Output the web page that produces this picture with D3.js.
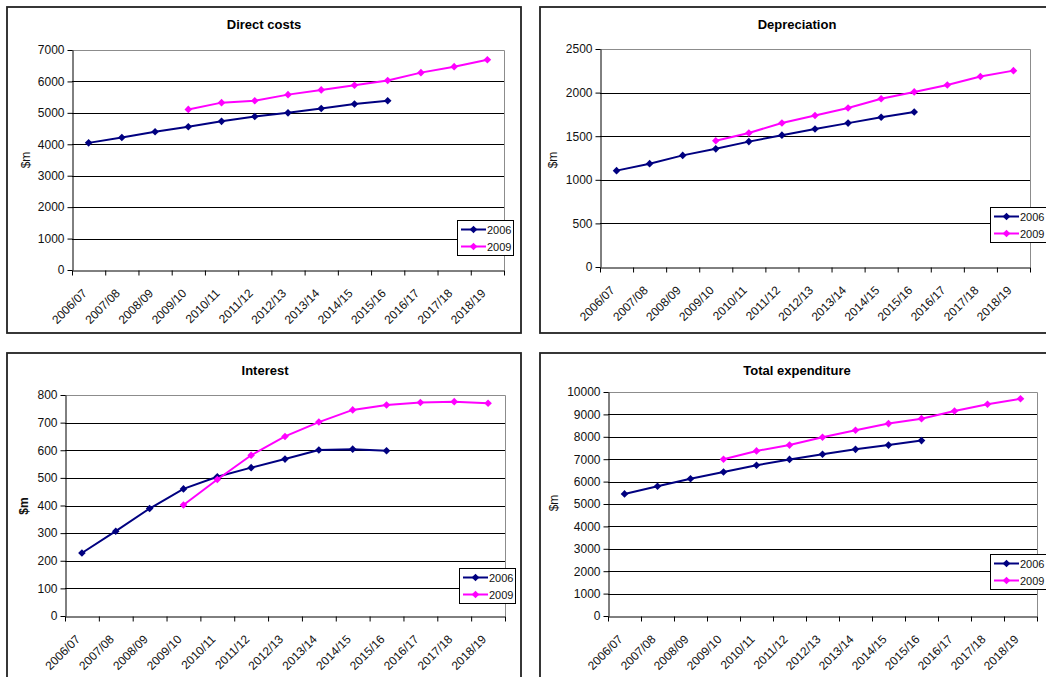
<!DOCTYPE html>
<html>
<head>
<meta charset="utf-8">
<script src="https://cdn.jsdelivr.net/npm/d3@7"></script>
<style>
  html, body { margin: 0; padding: 0; background: #fff; }
  svg { display: block; font-family: "Liberation Sans", Arial, sans-serif; }
</style>
</head>
<body>
<svg id="chart" width="1046" height="677"></svg>
<script>
// Financial years on the category axis
const categories = ["2006/07", "2007/08", "2008/09", "2009/10", "2010/11", "2011/12", "2012/13",
  "2013/14", "2014/15", "2015/16", "2016/17", "2017/18", "2018/19"];

// 2006 forecast covers 2006/07 - 2015/16, 2009 forecast covers 2009/10 - 2018/19
const seriesNames = ["2006", "2009"];
const start2006 = 0;
const start2009 = 3;

// Direct costs ($m)
const directCosts2006 = [4045, 4215, 4400, 4560, 4730, 4885, 5000, 5140, 5280, 5385];
const directCosts2009 = [5110, 5325, 5385, 5580, 5730, 5880, 6030, 6280, 6470, 6690];
const directCostsTicks = [0, 1000, 2000, 3000, 4000, 5000, 6000, 7000];

// Depreciation ($m)
const depreciation2006 = [1105, 1185, 1280, 1355, 1438, 1512, 1583, 1650, 1717, 1778];
const depreciation2009 = [1448, 1537, 1652, 1738, 1824, 1930, 2008, 2088, 2185, 2252];
const depreciationTicks = [0, 500, 1000, 1500, 2000, 2500];

// Interest ($m)
const interest2006 = [228, 307, 389, 460, 504, 537, 568, 601, 604, 598];
const interest2009 = [402, 494, 582, 650, 702, 746, 764, 773, 776, 770];
const interestTicks = [0, 100, 200, 300, 400, 500, 600, 700, 800];

// Total expenditure ($m)
const total2006 = [5450, 5790, 6130, 6430, 6730, 6990, 7220, 7440, 7630, 7830];
const total2009 = [7000, 7370, 7630, 7980, 8290, 8590, 8810, 9150, 9450, 9700];
const totalTicks = [0, 1000, 2000, 3000, 4000, 5000, 6000, 7000, 8000, 9000, 10000];

const colors = { "2006": "#000080", "2009": "#ff00ff" };

const svg = d3.select("#chart");

// Panel layouts (frame, plot area, title, axis title, legend)
const panels = [
  { title: "Direct costs", s2006: directCosts2006, s2009: directCosts2009, ticks: directCostsTicks,
    frame: [7, 7, 514, 326], plot: [72, 50, 504, 270], titleXY: [264, 29], ylabXY: [30, 160],
    ylabBold: false, legend: [457, 220] },
  { title: "Depreciation", s2006: depreciation2006, s2009: depreciation2009, ticks: depreciationTicks,
    frame: [540, 7, 530, 326], plot: [600, 49, 1030, 267], titleXY: [797, 29], ylabXY: [557, 160],
    ylabBold: false, legend: [990, 207] },
  { title: "Interest", s2006: interest2006, s2009: interest2009, ticks: interestTicks,
    frame: [7, 353, 514, 360], plot: [65, 395, 505, 616], titleXY: [265, 375], ylabXY: [28, 506],
    ylabBold: true, legend: [459, 568] },
  { title: "Total expenditure", s2006: total2006, s2009: total2009, ticks: totalTicks,
    frame: [540, 353, 530, 360], plot: [608, 392, 1037, 616], titleXY: [797, 375], ylabXY: [558, 503],
    ylabBold: false, legend: [990, 554] }
];

const diamond = "M0,-3.8L3.8,0L0,3.8L-3.8,0Z";

panels.forEach(p => {
  const g = svg.append("g");
  const [x0, y0, x1, y1] = p.plot;

  // outer chart frame
  g.append("rect")
    .attr("x", p.frame[0]).attr("y", p.frame[1])
    .attr("width", p.frame[2]).attr("height", p.frame[3])
    .attr("fill", "#fff").attr("stroke", "#222").attr("stroke-width", 1.8);

  const x = d3.scaleBand().domain(categories).range([x0, x1]);
  const xEdge = d3.scaleLinear().domain([0, categories.length]).range([x0, x1]);
  const yMax = p.ticks[p.ticks.length - 1];
  const y = d3.scaleLinear().domain([0, yMax]).range([y1, y0]);

  // horizontal gridlines
  g.append("g").selectAll("line")
    .data(p.ticks.filter(t => t > 0 && t < yMax))
    .join("line")
    .attr("x1", x0).attr("x2", x1)
    .attr("y1", d => Math.round(y(d)) + 0.5).attr("y2", d => Math.round(y(d)) + 0.5)
    .attr("stroke", "#000").attr("stroke-width", 1);

  // plot-area border (top and right)
  g.append("path")
    .attr("d", `M${x0},${Math.round(y0) + 0.5}H${Math.round(x1) + 0.5}V${y1}`)
    .attr("fill", "none").attr("stroke", "#8c8c8c").attr("stroke-width", 1);

  // y axis
  const yAxis = g.append("g")
    .attr("transform", `translate(${Math.round(x0) + 0.5},0)`)
    .call(d3.axisLeft(y).tickValues(p.ticks).tickSize(5).tickSizeOuter(0).tickPadding(3).tickFormat(d3.format("d")));
  yAxis.select(".domain").attr("stroke", "#000");
  yAxis.selectAll(".tick line").attr("stroke", "#000");
  yAxis.selectAll("text").attr("font-size", 12).attr("fill", "#111")
    .attr("font-family", "Liberation Sans, Arial, sans-serif");

  // x axis with ticks on category boundaries
  const xAxis = g.append("g")
    .attr("transform", `translate(0,${Math.round(y1) + 0.5})`)
    .call(d3.axisBottom(xEdge).tickValues(d3.range(categories.length + 1)).tickSize(5).tickSizeOuter(0).tickFormat(""));
  xAxis.select(".domain").attr("stroke", "#000");
  xAxis.selectAll(".tick line").attr("stroke", "#000");

  // slanted category labels
  g.append("g").selectAll("text")
    .data(categories)
    .join("text")
    .attr("transform", d => `translate(${x(d) + x.bandwidth() / 2 - 1},${y1 + 24}) rotate(-45)`)
    .attr("text-anchor", "end")
    .attr("font-size", 12).attr("fill", "#111")
    .text(d => d);

  // title
  g.append("text")
    .attr("x", p.titleXY[0]).attr("y", p.titleXY[1])
    .attr("text-anchor", "middle").attr("font-size", 13).attr("font-weight", "bold").attr("fill", "#000")
    .text(p.title);

  // y axis title
  g.append("text")
    .attr("transform", `translate(${p.ylabXY[0]},${p.ylabXY[1]}) rotate(-90)`)
    .attr("text-anchor", "middle").attr("font-size", 12)
    .attr("font-weight", p.ylabBold ? "bold" : "normal").attr("fill", "#111")
    .text("$m");

  // series
  const series = [
    { name: "2006", start: start2006, values: p.s2006 },
    { name: "2009", start: start2009, values: p.s2009 }
  ];
  const line = d3.line()
    .x(d => x(d.cat) + x.bandwidth() / 2)
    .y(d => y(d.v));
  series.forEach(s => {
    const pts = s.values.map((v, i) => ({ cat: categories[s.start + i], v }));
    g.append("path").datum(pts)
      .attr("d", line).attr("fill", "none")
      .attr("stroke", colors[s.name]).attr("stroke-width", 2);
    g.append("g").selectAll("path")
      .data(pts).join("path")
      .attr("d", diamond)
      .attr("transform", d => `translate(${x(d.cat) + x.bandwidth() / 2},${y(d.v)})`)
      .attr("fill", colors[s.name]);
  });

  // legend
  const [lx, ly] = p.legend;
  const lg = g.append("g").attr("transform", `translate(${lx},${ly})`);
  lg.append("rect").attr("x", 0.5).attr("y", 0.5).attr("width", 56).attr("height", 35)
    .attr("fill", "#fff").attr("stroke", "#000").attr("stroke-width", 1);
  seriesNames.forEach((name, i) => {
    const ry = 9.5 + i * 17;
    lg.append("line").attr("x1", 4).attr("x2", 29).attr("y1", ry).attr("y2", ry)
      .attr("stroke", colors[name]).attr("stroke-width", 2);
    lg.append("path").attr("d", diamond).attr("transform", `translate(16.5,${ry})`).attr("fill", colors[name]);
    lg.append("text").attr("x", 30).attr("y", ry + 4).attr("font-size", 11).attr("fill", "#111").text(name);
  });
});
</script>
</body>
</html>
